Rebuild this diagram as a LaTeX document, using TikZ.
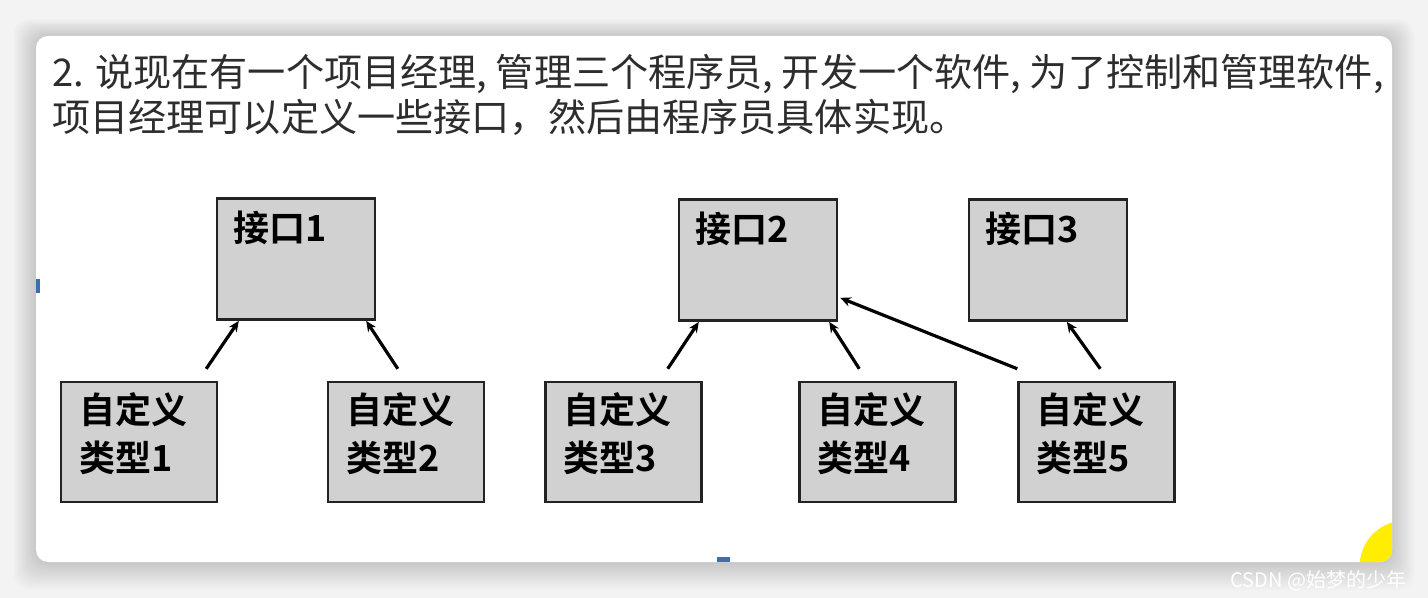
\documentclass[tikz,border=0pt]{standalone}
\usepackage{fontspec}
\newfontfamily\cjk{Noto Sans CJK SC}[BoldFont={* Bold}]
\definecolor{cardshade}{RGB}{243,243,243}
\definecolor{boxgray}{RGB}{209,209,209}
\definecolor{boxline}{RGB}{35,35,35}
\definecolor{txtgray}{RGB}{45,45,45}
\definecolor{markblue}{RGB}{58,112,176}
\definecolor{dotyellow}{RGB}{255,238,0}
\usetikzlibrary{arrows.meta,positioning,calc}

\begin{document}
\begin{tikzpicture}[
    x=0.75pt, y=-0.75pt,
    ibox/.style={rectangle, draw=boxline, line width=1.8pt, fill=boxgray,
                 minimum width=118.5pt, minimum height=91pt},
    tbox/.style={rectangle, draw=boxline, line width=1.8pt, fill=boxgray,
                 minimum width=117pt, minimum height=90pt},
    lbl/.style={anchor=north west, inner sep=0pt, align=left,
                font=\cjk\bfseries\fontsize{27pt}{36pt}\selectfont},
    arr/.style={-{Stealth[length=8pt, width=7pt]}, line width=2.4pt, black}
  ]
    % Page and card
    \useasboundingbox (0,0) rectangle (1428,598);
    \fill[cardshade] (0,0) rectangle (1428,598);
    \foreach \k in {1,...,14}
      \fill[black, opacity=0.013, rounded corners=12pt]
        (36-1.6*\k, 36-1.2*\k) rectangle (1392+1.6*\k, 562+2*\k);
    \fill[white, rounded corners=9pt] (36,36) rectangle (1392,562);
    \begin{scope}
      \clip[rounded corners=9pt] (36,36) rectangle (1392,562);
      \fill[dotyellow] (1405,566) circle[radius=34pt];
    \end{scope}
    \fill[markblue] (36,279) rectangle (40,293);
    \fill[markblue] (717,557) rectangle (730,562);

    % Heading text
    \node[anchor=north west, inner sep=0pt, align=left, text=txtgray,
          font=\cjk\fontsize{28.6pt}{33.75pt}\selectfont] (title) at (52,54)
      {2. 说现在有一个项目经理, 管理三个程序员, 开发一个软件, 为了控制和管理软件,\\
       项目经理可以定义一些接口，然后由程序员具体实现。};

    % Interfaces
    \node[ibox] (i1) at (296,259) {};
    \node[ibox] (i2) at (758,260) {};
    \node[ibox] (i3) at (1048,260) {};
    \node[lbl] (i1t) at ([shift={(17,14)}]i1.north west) {接口1};
    \node[lbl] (i2t) at ([shift={(17,14)}]i2.north west) {接口2};
    \node[lbl] (i3t) at ([shift={(17,14)}]i3.north west) {接口3};

    % Custom types
    \node[tbox] (t1) at (139,442) {};
    \node[tbox] (t2) at (406,442) {};
    \node[tbox] (t3) at (623.5,442) {};
    \node[tbox] (t4) at (877.5,442) {};
    \node[tbox] (t5) at (1096.5,442) {};
    \node[lbl] (t1t) at ([shift={(19,11)}]t1.north west) {自定义\\类型1};
    \node[lbl] (t2t) at ([shift={(19,11)}]t2.north west) {自定义\\类型2};
    \node[lbl] (t3t) at ([shift={(19,11)}]t3.north west) {自定义\\类型3};
    \node[lbl] (t4t) at ([shift={(19,11)}]t4.north west) {自定义\\类型4};
    \node[lbl] (t5t) at ([shift={(19,11)}]t5.north west) {自定义\\类型5};

    % Implements
    \draw[arr] ([shift={(-12,-12)}]t1.north east) -- ([shift={(23,0)}]i1.south west);
    \draw[arr] ([shift={(71,-12)}]t2.north west) -- ([shift={(-10,0)}]i1.south east);
    \draw[arr] ([shift={(-35,-12)}]t3.north east) -- ([shift={(21,0)}]i2.south west);
    \draw[arr] ([shift={(61,-12)}]t4.north west) -- ([shift={(-9,0)}]i2.south east);
    \draw[arr] ([shift={(0,-12)}]t5.north west) -- ([shift={(2,-24)}]i2.south east);
    \draw[arr] ([shift={(83,-12)}]t5.north west) -- ([shift={(99,0)}]i3.south west);

    % Watermark
    \node[anchor=base west, inner sep=0pt, text=white,
          font=\cjk\fontsize{15pt}{17pt}\selectfont] (mark) at (1230,587)
      {CSDN @始梦的少年};
\end{tikzpicture}
\end{document}
